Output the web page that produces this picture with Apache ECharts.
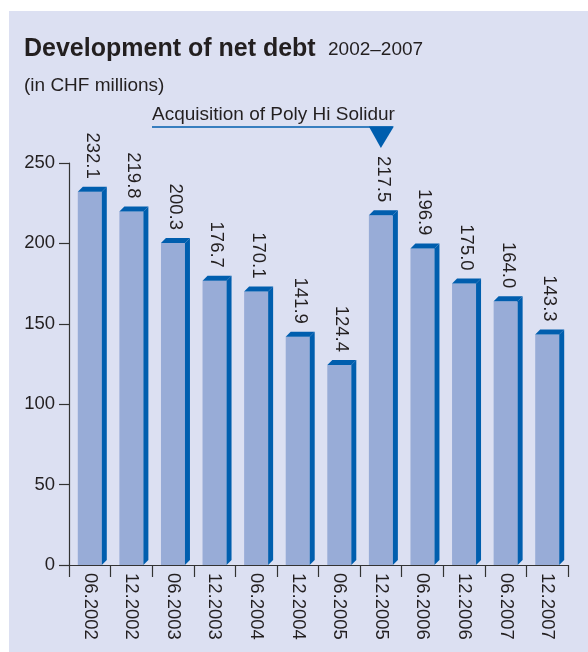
<!DOCTYPE html>
<html>
<head>
<meta charset="utf-8">
<script src="https://cdn.jsdelivr.net/npm/echarts@6/dist/echarts.min.js"></script>
<style>
html,body{margin:0;padding:0;background:#fff;}
#c{width:588px;height:652px;}
</style>
</head>
<body>
<div id="c"></div>
<script>
const categories = ['06.2002','12.2002','06.2003','12.2003','06.2004','12.2004','06.2005','12.2005','06.2006','12.2006','06.2007','12.2007'];
const netDebt = [232.1, 219.8, 200.3, 176.7, 170.1, 141.9, 124.4, 217.5, 196.9, 175.0, 164.0, 143.3];
const yTicks = [0, 50, 100, 150, 200, 250];
const titleMain = 'Development of net debt';
const titleYears = '2002–2007';
const subtitle = '(in CHF millions)';
const annotationText = 'Acquisition of Poly Hi Solidur';
const annotationIndex = 7;

const FONT = '"Liberation Sans", Arial, Helvetica, sans-serif';
const TXT = '#231f20';
const FRONT = '#98acd7';
const DARK = '#005eae';
const BG = '#dce0f2';

const chart = echarts.init(document.getElementById('c'), null, {renderer: 'canvas'});

function renderBar(params, api) {
  const i = api.value(0);
  const v = api.value(1);
  const top = api.coord([i, v]);
  const base = api.coord([i, 0]);
  const cx = top[0];
  const yT = top[1];
  const y0 = base[1];
  const hw = 12, d = 5;
  return {
    type: 'group',
    children: [
      {type: 'rect', shape: {x: cx - hw, y: yT, width: hw * 2, height: y0 - yT}, style: {fill: FRONT}},
      {type: 'polygon', shape: {points: [[cx + hw, yT], [cx + hw + d, yT - d], [cx + hw + d, y0 - d], [cx + hw, y0]]}, style: {fill: DARK}},
      {type: 'polygon', shape: {points: [[cx - hw, yT], [cx - hw + d, yT - d], [cx + hw + d, yT - d], [cx + hw, yT]]}, style: {fill: DARK}},
      {type: 'text', x: cx + 2, y: yT - 13, rotation: -Math.PI / 2,
        style: {text: v.toFixed(1), fill: TXT, font: '18.5px ' + FONT, align: 'right', verticalAlign: 'middle'}}
    ]
  };
}

chart.setOption({
  backgroundColor: '#ffffff',
  animation: false,
  grid: {left: 69, right: 20, top: 163, bottom: 87, containLabel: false},
  xAxis: {
    type: 'category',
    data: categories,
    boundaryGap: true,
    axisLine: {show: true, lineStyle: {color: '#333', width: 1.2}},
    axisTick: {show: true, length: 12, alignWithLabel: false, lineStyle: {color: '#333', width: 1.2}},
    axisLabel: {rotate: -90, margin: 8, fontSize: 18.5, fontFamily: FONT, color: TXT, interval: 0}
  },
  yAxis: {
    type: 'value',
    min: yTicks[0],
    max: yTicks[yTicks.length - 1],
    interval: yTicks[1] - yTicks[0],
    axisLine: {show: true, lineStyle: {color: '#333', width: 1.2}},
    axisTick: {show: true, length: 10, lineStyle: {color: '#333', width: 1.2}},
    splitLine: {show: false},
    axisLabel: {margin: 14, fontSize: 18.5, fontFamily: FONT, color: TXT}
  },
  series: [{
    type: 'custom',
    renderItem: renderBar,
    data: netDebt.map((v, i) => [i, v]),
    encode: {x: 0, y: 1},
    z: 2
  }]
});

const ax = chart.convertToPixel({gridIndex: 0}, [annotationIndex, 0])[0];

chart.setOption({
  graphic: [
    {type: 'rect', z: -10, zlevel: 0, silent: true, shape: {x: 9, y: 11, width: 579, height: 641}, style: {fill: BG}},
    {type: 'text', x: 24, y: 49, style: {text: titleMain, font: 'bold 25px ' + FONT, fill: TXT, verticalAlign: 'middle'}},
    {type: 'text', x: 328, y: 50, style: {text: titleYears, font: '19px ' + FONT, fill: TXT, verticalAlign: 'middle'}},
    {type: 'text', x: 24, y: 86, style: {text: subtitle, font: '19px ' + FONT, fill: TXT, verticalAlign: 'middle'}},
    {type: 'text', x: 152, y: 115, style: {text: annotationText, font: '19px ' + FONT, fill: TXT, verticalAlign: 'middle'}},
    {type: 'line', shape: {x1: 152, y1: 127, x2: ax + 12, y2: 127}, style: {stroke: DARK, lineWidth: 1.5}},
    {type: 'polygon', shape: {points: [[ax - 12, 126.5], [ax + 13, 126.5], [ax, 148]]}, style: {fill: DARK}}
  ]
});
</script>
</body>
</html>
